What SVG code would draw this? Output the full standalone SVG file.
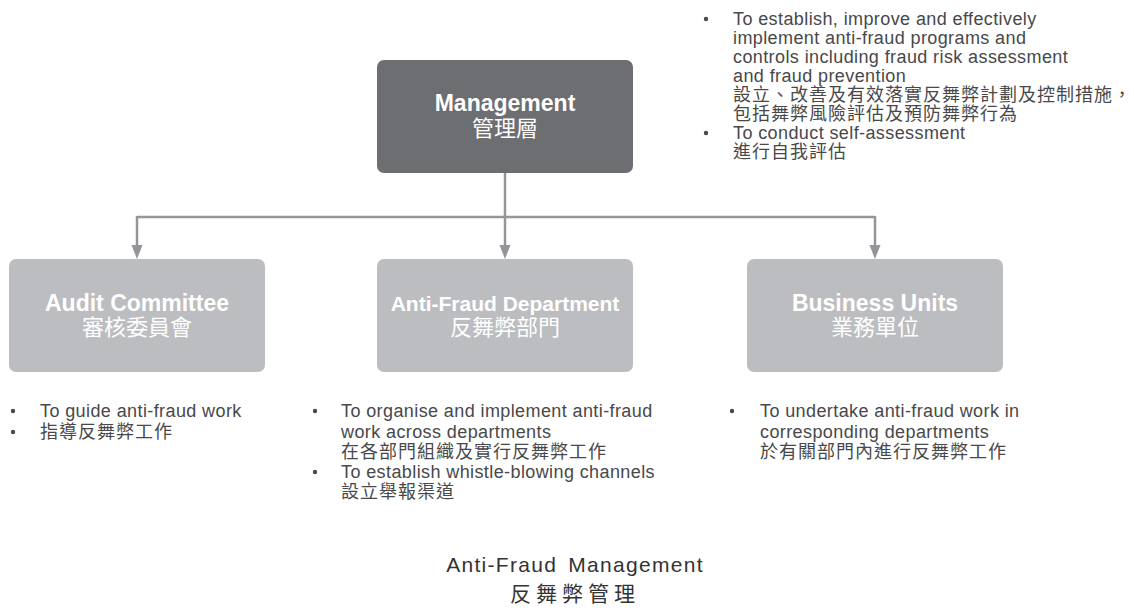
<svg xmlns="http://www.w3.org/2000/svg" width="1134" height="611" viewBox="0 0 1134 611">
  <style>
    .head { fill: #6d6e71; }
    .unit { fill: #bcbdc0; }
    .label { font-family: "Liberation Sans", "Noto Sans CJK TC", sans-serif; fill: #ffffff; text-anchor: middle; }
    .en { font-weight: bold; font-size: 23px; }
    .zh { font-family: "Noto Sans CJK TC", sans-serif; font-size: 22px; }
    .body { font-family: "Liberation Sans", "Noto Sans CJK TC", sans-serif; font-size: 18px; letter-spacing: 0.4px; fill: #48484a; }
    .bodyzh { font-family: "Noto Sans CJK TC", sans-serif; font-size: 18px; letter-spacing: 1px; fill: #48484a; }
    .dot { fill: #48484a; }
    .link { fill: none; stroke: #939598; stroke-width: 2.5; }
    .tip { fill: #939598; }
    .title { font-family: "Liberation Sans", sans-serif; font-size: 21px; fill: #333333; text-anchor: middle; }
  </style>

  <!-- connectors -->
  <g id="connectors">
    <path class="link" d="M505,173 V246"/>
    <path class="link" d="M137,217 H875"/>
    <path class="link" d="M137,216 V246"/>
    <path class="link" d="M875,216 V246"/>
    <path class="tip" d="M499.5,245 L510.5,245 L505,259 Z"/>
    <path class="tip" d="M131.5,245 L142.5,245 L137,259 Z"/>
    <path class="tip" d="M869.5,245 L880.5,245 L875,259 Z"/>
  </g>

  <!-- top node -->
  <g id="management">
    <rect class="head" x="377" y="60" width="256" height="113" rx="7"/>
    <text class="label en" x="505" y="111">Management</text>
    <text class="label zh" x="505" y="136">管理層</text>
  </g>

  <g id="management-duties">
    <circle class="dot" cx="706" cy="19" r="2.2"/>
    <circle class="dot" cx="706" cy="133" r="2.2"/>
    <text class="body" x="733" y="25">To establish, improve and effectively</text>
    <text class="body" x="733" y="44">implement anti-fraud programs and</text>
    <text class="body" x="733" y="63">controls including fraud risk assessment</text>
    <text class="body" x="733" y="82">and fraud prevention</text>
    <text class="bodyzh" x="733" y="101">設立、改善及有效落實反舞弊計劃及控制措施，</text>
    <text class="bodyzh" x="733" y="120">包括舞弊風險評估及預防舞弊行為</text>
    <text class="body" x="733" y="139">To conduct self-assessment</text>
    <text class="bodyzh" x="733" y="158">進行自我評估</text>
  </g>

  <!-- second level nodes -->
  <g id="audit-committee">
    <rect class="unit" x="9" y="259" width="256" height="113" rx="7"/>
    <text class="label en" x="137" y="311">Audit Committee</text>
    <text class="label zh" x="137" y="335">審核委員會</text>
  </g>

  <g id="anti-fraud-department">
    <rect class="unit" x="377" y="259" width="256" height="113" rx="7"/>
    <text class="label en" x="505" y="311" style="font-size:21px">Anti-Fraud Department</text>
    <text class="label zh" x="505" y="335">反舞弊部門</text>
  </g>

  <g id="business-units">
    <rect class="unit" x="747" y="259" width="256" height="113" rx="7"/>
    <text class="label en" x="875" y="311">Business Units</text>
    <text class="label zh" x="875" y="335">業務單位</text>
  </g>

  <!-- duties under each unit -->
  <g id="audit-committee-duties">
    <circle class="dot" cx="13" cy="411" r="2.2"/>
    <circle class="dot" cx="13" cy="432" r="2.2"/>
    <text class="body" x="40" y="417">To guide anti-fraud work</text>
    <text class="bodyzh" x="40" y="438">指導反舞弊工作</text>
  </g>

  <g id="anti-fraud-department-duties">
    <circle class="dot" cx="315" cy="411" r="2.2"/>
    <circle class="dot" cx="315" cy="472" r="2.2"/>
    <text class="body" x="341" y="417">To organise and implement anti-fraud</text>
    <text class="body" x="341" y="438">work across departments</text>
    <text class="bodyzh" x="341" y="458">在各部門組織及實行反舞弊工作</text>
    <text class="body" x="341" y="478">To establish whistle-blowing channels</text>
    <text class="bodyzh" x="341" y="498">設立舉報渠道</text>
  </g>

  <g id="business-units-duties">
    <circle class="dot" cx="732" cy="411" r="2.2"/>
    <text class="body" x="760" y="417">To undertake anti-fraud work in</text>
    <text class="body" x="760" y="438">corresponding departments</text>
    <text class="bodyzh" x="760" y="458">於有關部門內進行反舞弊工作</text>
  </g>

  <!-- caption -->
  <g id="caption">
    <text class="title" x="575" y="572" style="letter-spacing:1.3px; word-spacing:4px">Anti-Fraud Management</text>
    <text class="title" x="575" y="601" style="font-family:'Noto Sans CJK TC', sans-serif; letter-spacing:5px">反舞弊管理</text>
  </g>
</svg>
